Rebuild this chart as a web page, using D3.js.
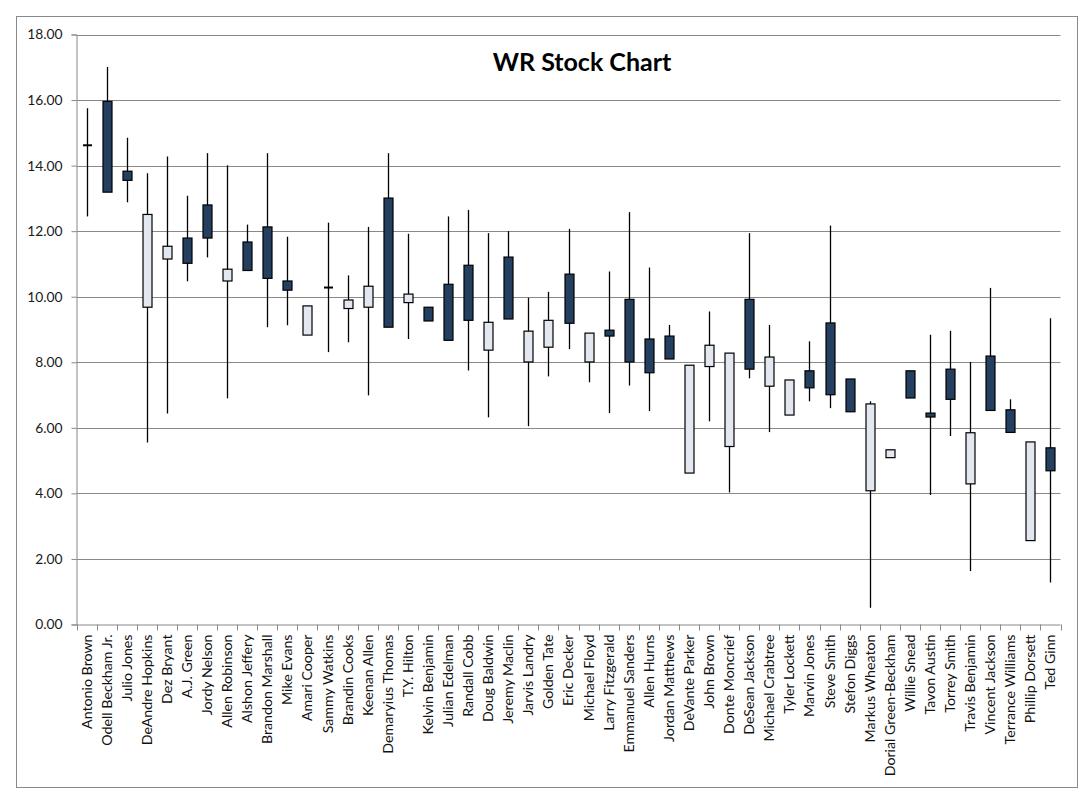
<!DOCTYPE html>
<html>
<head>
<meta charset="utf-8">
<script src="https://cdn.jsdelivr.net/npm/d3@7"></script>
<style>
  html, body { margin: 0; padding: 0; background: #fff; }
  svg { display: block; }
</style>
</head>
<body>
<svg id="chart" width="1090" height="803"></svg>
<script>
const players = ["Antonio Brown","Odell Beckham Jr.","Julio Jones","DeAndre Hopkins","Dez Bryant","A.J. Green","Jordy Nelson","Allen Robinson","Alshon Jeffery","Brandon Marshall","Mike Evans","Amari Cooper","Sammy Watkins","Brandin Cooks","Keenan Allen","Demaryius Thomas","T.Y. Hilton","Kelvin Benjamin","Julian Edelman","Randall Cobb","Doug Baldwin","Jeremy Maclin","Jarvis Landry","Golden Tate","Eric Decker","Michael Floyd","Larry Fitzgerald","Emmanuel Sanders","Allen Hurns","Jordan Matthews","DeVante Parker","John Brown","Donte Moncrief","DeSean Jackson","Michael Crabtree","Tyler Lockett","Marvin Jones","Steve Smith","Stefon Diggs","Markus Wheaton","Dorial Green-Beckham","Willie Snead","Tavon Austin","Torrey Smith","Travis Benjamin","Vincent Jackson","Terrance Williams","Phillip Dorsett","Ted Ginn"];

const openVals  = [14.62,15.96,13.83,9.68,11.15,11.79,12.80,10.48,11.67,12.13,10.48,8.83,10.28,9.64,9.68,13.01,9.82,9.68,10.38,10.96,8.37,11.21,8.01,8.46,10.69,8.01,8.98,9.92,8.71,8.80,4.62,7.87,5.43,9.92,7.27,6.39,7.74,9.20,7.49,4.08,5.09,7.74,6.45,7.79,4.29,8.19,6.55,2.56,5.39];
const highVals  = [15.75,17.01,14.85,13.77,14.28,13.08,14.38,14.01,12.20,14.38,11.83,9.72,12.26,10.65,12.13,14.38,11.92,9.68,12.45,12.65,11.94,12.00,9.97,10.15,12.07,8.89,10.77,12.58,10.89,9.14,7.91,9.55,8.28,11.94,9.14,7.46,8.64,12.17,7.49,6.81,5.33,7.74,8.84,8.96,8.01,10.27,6.87,5.57,9.34];
const lowVals   = [12.45,13.19,12.88,5.55,6.44,10.47,11.20,6.90,10.80,9.07,9.13,8.83,8.31,8.61,6.99,9.07,8.71,9.26,8.67,7.75,6.32,9.32,6.05,7.57,8.40,7.39,6.45,7.29,6.51,8.10,4.62,6.20,4.03,7.51,5.87,6.39,6.81,6.60,6.49,0.51,5.09,6.91,3.95,5.75,1.63,6.53,5.86,2.56,1.28];
const closeVals = [14.62,13.19,13.55,12.51,11.54,11.02,11.79,10.84,10.80,10.56,10.20,9.72,10.28,9.90,10.32,9.07,10.08,9.26,8.67,9.28,9.22,9.32,8.95,9.28,9.19,8.89,8.80,8.01,7.68,8.10,7.91,8.52,8.28,7.79,8.16,7.46,7.22,7.01,6.49,6.73,5.33,6.91,6.33,6.87,5.85,6.53,5.86,5.57,4.69];

const yTicks = [0,2,4,6,8,10,12,14,16,18];
const chartTitle = "WR Stock Chart";

const data = players.map((p, i) => ({
  name: p, open: openVals[i], high: highVals[i], low: lowVals[i], close: closeVals[i]
}));

const svg = d3.select("#chart");
const W = 1090, H = 803;
const mLeft = 76.5, mRight = 1060.5, mTop = 34.5, mBottom = 624.5;
const gridColor = "#898989";
const font = "Lato, 'Open Sans', sans-serif";

svg.append("rect").attr("x",0).attr("y",0).attr("width",W).attr("height",H).attr("fill","#fff");
svg.append("rect").attr("x",16.5).attr("y",16.5).attr("width",1061).attr("height",771)
  .attr("fill","none").attr("stroke",gridColor).attr("stroke-width",1);

const x = d3.scaleBand().domain(players).range([mLeft, mRight]).paddingInner(0).paddingOuter(0);
const y = d3.scaleLinear().domain([0,18]).range([mBottom, mTop]);

// gridlines
svg.append("g").selectAll("line").data(yTicks.filter(t => t > 0)).join("line")
  .attr("x1", mLeft).attr("x2", mRight)
  .attr("y1", d => Math.round(y(d)) + 0.5).attr("y2", d => Math.round(y(d)) + 0.5)
  .attr("stroke", gridColor).attr("stroke-width", 1);

// y axis
const yAxis = d3.axisLeft(y).tickValues(yTicks).tickSize(5).tickPadding(9).tickFormat(d3.format(".2f"));
const gy = svg.append("g").attr("transform", `translate(${mLeft},0)`).call(yAxis);
gy.select(".domain").attr("stroke", gridColor);
gy.selectAll(".tick line").attr("stroke", gridColor);
gy.selectAll(".tick text").attr("font-family", font).attr("font-size", "13.8px").attr("fill", "#1a1a1a");

// x axis
const xAxis = d3.axisBottom(x).tickSize(0).tickPadding(0);
const gx = svg.append("g").attr("transform", `translate(0,${mBottom})`).call(xAxis);
gx.select(".domain").attr("stroke", gridColor).attr("d", `M${mLeft},0.5H${mRight}`);
gx.selectAll(".tick text")
  .attr("font-family", font).attr("font-size", "14.2px").attr("fill", "#111")
  .attr("text-anchor", "end")
  .attr("transform", "rotate(-90)")
  .attr("x", -10).attr("y", 0).attr("dy", "0.35em");
// boundary tick marks
const bounds = players.map(p => x(p)).concat([x(players[players.length-1]) + x.bandwidth()]);
gx.append("g").selectAll("line").data(bounds).join("line")
  .attr("x1", d => Math.round(d) + 0.5).attr("x2", d => Math.round(d) + 0.5)
  .attr("y1", 0).attr("y2", 6).attr("stroke", gridColor);

// title
svg.append("text").attr("x", 582).attr("y", 71).attr("text-anchor", "middle")
  .attr("font-family", font).attr("font-weight", "bold").attr("font-size", "25px")
  .attr("fill", "#000").text(chartTitle);

// candles
const bw = 9;
const g = svg.append("g");
const cx = d => Math.round(x(d.name) + x.bandwidth()/2) + 0.5;
g.selectAll("line.wick").data(data).join("line").attr("class","wick")
  .attr("x1", cx).attr("x2", cx)
  .attr("y1", d => y(d.high)).attr("y2", d => y(d.low))
  .attr("stroke", "#000").attr("stroke-width", 1.3);

g.selectAll("rect.body").data(data.filter(d => Math.abs(d.open - d.close) > 0.02)).join("rect").attr("class","body")
  .attr("x", d => cx(d) - bw/2)
  .attr("width", bw)
  .attr("y", d => y(Math.max(d.open, d.close)))
  .attr("height", d => Math.abs(y(d.open) - y(d.close)))
  .attr("fill", d => d.close >= d.open ? "#E3E7F0" : "#243F60")
  .attr("stroke", "#000").attr("stroke-width", 1.2);

g.selectAll("line.doji").data(data.filter(d => Math.abs(d.open - d.close) <= 0.02)).join("line").attr("class","doji")
  .attr("x1", d => cx(d) - bw/2).attr("x2", d => cx(d) + bw/2)
  .attr("y1", d => y(d.open)).attr("y2", d => y(d.open))
  .attr("stroke", "#000").attr("stroke-width", 2);
</script>
</body>
</html>
